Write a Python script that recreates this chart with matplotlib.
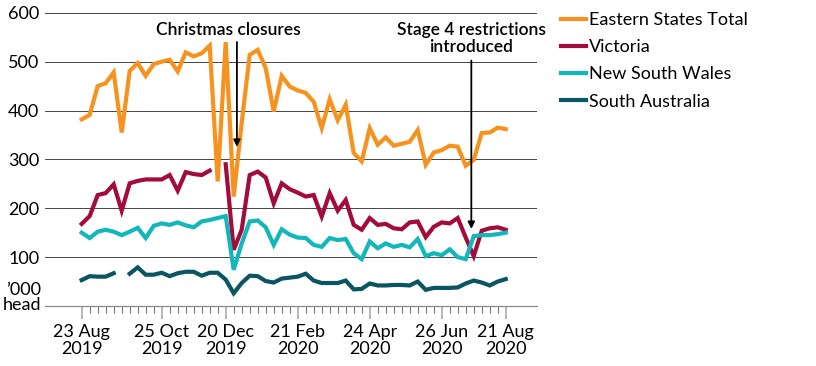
import numpy as np
import matplotlib
matplotlib.use('Agg')
import matplotlib.pyplot as plt
import matplotlib.transforms as mtransforms

plt.rcParams['font.family'] = ['Lato', 'DejaVu Sans']

# weekly values, '000 head
eastern = [382, 391, 450, 456, 478, 355, 481, 497, 471, 495, 500, 504, 480, 519,
           511, 517, 533, 255, 540, 224, 375, 514, 524, 487, 398, 471, 449, 441,
           436, 418, 364, 423, 380, 412, 313, 296, 364, 330, 345, 328, 332, 336,
           360, 289, 314, 319, 328, 326, 287, 299, 354, 355, 365, 362]
victoria = [168, 184, 227, 231, 249, 195, 251, 256, 259, 259, 259, 268, 236, 274,
            270, 268, 277, np.nan, 290, 115, 156, 268, 275, 263, 210, 251, 239, 232,
            224, 227, 183, 231, 195, 217, 166, 156, 180, 166, 168, 159, 157, 171,
            173, 141, 162, 171, 169, 180, 140, 102, 154, 159, 161, 156]
nsw = [150, 139, 152, 156, 152, 145, 152, 160, 139, 164, 169, 166, 171, 165,
       161, 173, 176, 180, 184, 74, 128, 173, 175, 161, 125, 157, 146, 140,
       139, 125, 121, 139, 135, 137, 108, 96, 132, 118, 128, 121, 125, 120,
       137, 102, 108, 104, 116, 100, 96, 143, 145, 145, 147, 150]
south_aus = [53, 61, 60, 60, 67, np.nan, 66, 79, 64, 64, 68, 61, 67, 70,
             70, 62, 68, 68, 54, 26, 47, 62, 61, 51, 48, 56, 58, 60,
             66, 52, 47, 47, 47, 52, 34, 35, 46, 42, 42, 43, 43, 42,
             50, 33, 37, 37, 37, 38, 46, 52, 48, 42, 50, 55]

series_names = ['Eastern States Total', 'Victoria', 'New South Wales', 'South Australia']
series_colors = ['#F7921E', '#A30B3B', '#12B7BC', '#0A5562']

x_tick_pos = [0, 10, 18, 27, 36, 45, 53]
x_tick_labels = ['23 Aug\n2019', '25 Oct\n2019', '20 Dec\n2019', '21 Feb\n2020',
                 '24 Apr\n2020', '26 Jun\n2020', '21 Aug\n2020']
y_ticks = [0, 100, 200, 300, 400, 500, 600]
y_tick_labels = ['', '100', '200', '300', '400', '500', '600']


def main():
    fig = plt.figure(figsize=(8.16, 3.66), dpi=100)
    ax = fig.add_axes([0.055, 0.164, 0.603, 0.801])

    x = np.arange(len(eastern))
    for vals, name, col in zip([eastern, victoria, nsw, south_aus], series_names, series_colors):
        ax.plot(x, vals, color=col, linewidth=3, label=name, solid_joinstyle='miter', zorder=3)

    ax.set_xlim(-4.6, 56.9)
    ax.set_ylim(0, 600)

    ax.set_yticks(y_ticks)
    ax.set_yticklabels(y_tick_labels, fontsize=13)
    ax.tick_params(axis='y', length=0, pad=4)
    ax.yaxis.grid(True, color='#444444', linewidth=0.7)
    ax.set_axisbelow(True)

    ax.set_xticks(x_tick_pos)
    ax.set_xticklabels(x_tick_labels, fontsize=13, linespacing=1.05)
    ax.set_xticks(x, minor=True)
    ax.tick_params(axis='x', which='major', length=9, width=1.2, color='#aaaaaa', pad=4)
    ax.tick_params(axis='x', which='minor', length=5, width=0.8, color='#777777')

    for s in ['top', 'right', 'left']:
        ax.spines[s].set_visible(False)
    ax.spines['bottom'].set_color('#888888')
    ax.spines['bottom'].set_linewidth(0.9)

    trans = mtransforms.blended_transform_factory(ax.transAxes, ax.transData)
    ax.text(-0.008, 18, '\u2019000\nhead', transform=trans, ha='right', va='center',
            fontsize=13, linespacing=0.9, multialignment='right')

    # annotations
    ax.annotate('', xy=(19.4, 320), xytext=(19.4, 546),
                arrowprops=dict(arrowstyle='-|>', color='black', lw=1.3, mutation_scale=10))
    ax.text(18.3, 564, 'Christmas closures', ha='center', va='center', fontsize=12.5,
            fontweight='semibold')
    ax.annotate('', xy=(48.7, 152), xytext=(48.7, 508),
                arrowprops=dict(arrowstyle='-|>', color='black', lw=1.3, mutation_scale=10))
    ax.text(48.7, 548, 'Stage 4 restrictions\nintroduced', ha='center', va='center',
            fontsize=12.5, fontweight='semibold', linespacing=1.1)

    ax.legend(loc='upper left', bbox_to_anchor=(0.687, 0.967), bbox_transform=fig.transFigure,
              frameon=False, fontsize=13, handlelength=1.4, handletextpad=0.15,
              labelspacing=0.62, borderpad=0, borderaxespad=0)

    plt.savefig('out.png', dpi=100)


if __name__ == '__main__':
    main()
